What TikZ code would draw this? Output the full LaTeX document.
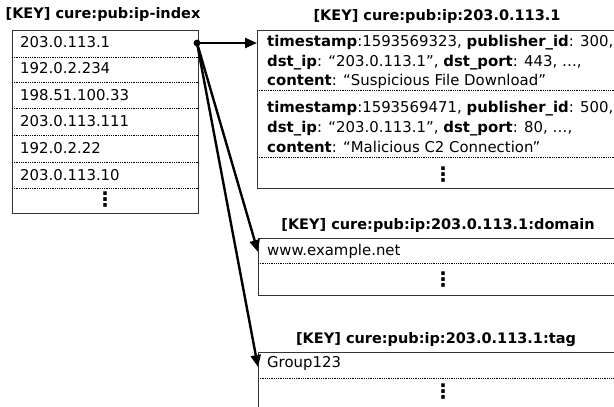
\documentclass[tikz,border=0pt]{standalone}
\usepackage{fontspec}
\setmainfont{DejaVu Sans}
\usetikzlibrary{arrows.meta}
\begin{document}
\begin{tikzpicture}[x=1pt,y=-1pt,
  box/.style={draw=black!80, line width=1pt, inner sep=0pt},
  sep/.style={line width=0.9pt, dash pattern=on 0.9pt off 0.9pt},
  title/.style={inner sep=0pt, font=\fontsize{14.5}{16}\selectfont\bfseries},
  entry/.style={anchor=base west, inner sep=0pt, font=\fontsize{14.9}{20}\selectfont},
  vdots/.style={inner sep=0pt, font=\fontsize{20}{22}\selectfont\bfseries},
  link/.style={line width=2.4pt, -{Triangle[length=12pt,width=10pt]}}]
\useasboundingbox (0,0) rectangle (614,407);
\clip (0,0) rectangle (614,407);

% ---- left: ip-index ----
\node[title] (t0) at (103,14) {[KEY] cure:pub:ip-index};
\node[box, anchor=north west, minimum width=186pt, minimum height=183pt] (idx) at (12,30) {};
\foreach \y in {57,82,108,135,162,188} \draw[sep] (12,\y) -- (198,\y);
\node[entry] (i1) at (20,47.5) {203.0.113.1};
\node[entry] (i2) at (20,73.5) {192.0.2.234};
\node[entry] (i3) at (20,100) {198.51.100.33};
\node[entry] (i4) at (20,126.5) {203.0.113.111};
\node[entry] (i5) at (20,153.5) {192.0.2.22};
\node[entry] (i6) at (20,180) {203.0.113.10};
\node[vdots] (i7) at (105,200) {⋮};

% ---- right top ----
\node[title] (t1) at (437,16) {[KEY] cure:pub:ip:203.0.113.1};
\node[box, anchor=north west, minimum width=372pt, minimum height=158pt] (ev) at (257,30) {};
\draw[sep] (257,90) -- (629,90);
\draw[sep] (257,157) -- (629,157);
\node[entry] (e1a) at (267,46) {\textbf{timestamp}:1593569323, \textbf{publisher\_id}: 300,};
\node[entry] (e1b) at (267,66) {\textbf{dst\_ip}: “203.0.113.1”, \textbf{dst\_port}: 443, …,};
\node[entry] (e1c) at (267,85) {\textbf{content}: “Suspicious File Download”};
\node[entry] (e2a) at (267,112) {\textbf{timestamp}:1593569471, \textbf{publisher\_id}: 500,};
\node[entry] (e2b) at (267,132) {\textbf{dst\_ip}: “203.0.113.1”, \textbf{dst\_port}: 80, …,};
\node[entry] (e2c) at (267,152) {\textbf{content}: “Malicious C2 Connection”};
\node[vdots] (e3) at (443,175) {⋮};

% ---- right middle: domain ----
\node[title] (t2) at (438,225) {[KEY] cure:pub:ip:203.0.113.1:domain};
\node[box, anchor=north west, minimum width=371pt, minimum height=57pt] (dom) at (258,238) {};
\draw[sep] (258,263) -- (629,263);
\node[entry] (d1) at (267,255) {www.example.net};
\node[vdots] (d2) at (443,280) {⋮};

% ---- right bottom: tag ----
\node[title] (t3) at (436,340) {[KEY] cure:pub:ip:203.0.113.1:tag};
\node[box, anchor=north west, minimum width=371pt, minimum height=70pt] (tag) at (258,352) {};
\draw[sep] (258,378) -- (629,378);
\node[entry] (g1) at (267,367) {Group123};
\node[vdots] (g2) at (443,392) {⋮};

% ---- connectors ----
\coordinate (src) at (197,43);
\coordinate (evin) at (257,43);
\coordinate (domin) at (258,252);
\coordinate (tagin) at (258,367);
\fill (src) circle (3.4pt);
\draw[link] (src) -- (evin);
\draw[link] (src) -- (domin);
\draw[link] (src) -- (tagin);
\end{tikzpicture}
\end{document}
